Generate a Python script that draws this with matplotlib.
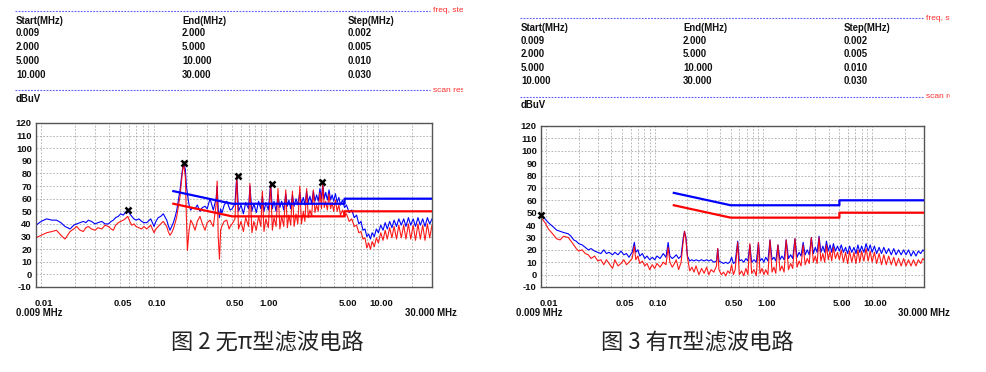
import matplotlib
matplotlib.use('Agg')
import matplotlib.pyplot as plt
import matplotlib.transforms as mtransforms
from matplotlib.ticker import LogLocator, NullFormatter

plt.rcParams['axes.unicode_minus'] = False

# Tabela de varredura (igual nos dois gráficos)
scan_start = ['0.009', '2.000', '5.000', '10.000']
scan_end = ['2.000', '5.000', '10.000', '30.000']
scan_step = ['0.002', '0.005', '0.010', '0.030']

# Linhas de limite (QP azul / AV vermelho)
limit_freq = [0.15, 0.5, 5.0, 5.0, 30.0]
limit_qp = [66, 56, 56, 60, 60]
limit_av = [56, 46, 46, 50, 50]

xtick_vals = [0.01, 0.05, 0.1, 0.5, 1, 5, 10]
xtick_labels = ['0.01', '0.05', '0.10', '0.50', '1.00', '5.00', '10.00']

# Figura 2 - sem filtro pi
freq_2 = [0.009, 0.010, 0.0112, 0.0125, 0.0137, 0.015, 0.0163, 0.0181, 0.0195, 0.0207,
          0.0222, 0.0237, 0.025, 0.0263, 0.028, 0.0302, 0.032, 0.0346, 0.037, 0.0396,
          0.042, 0.0439, 0.046, 0.0486, 0.051, 0.0538, 0.056, 0.0589, 0.0615, 0.064,
          0.067, 0.0698, 0.074, 0.0784, 0.082, 0.0869, 0.0944, 0.101, 0.105, 0.110,
          0.116, 0.122, 0.131, 0.135, 0.140, 0.145, 0.150, 0.156, 0.161, 0.172,
          0.180, 0.185, 0.192, 0.196, 0.200, 0.207, 0.214, 0.223, 0.234, 0.245,
          0.259, 0.272, 0.287, 0.300, 0.318, 0.330, 0.340, 0.360, 0.368, 0.376,
          0.386, 0.395, 0.404, 0.425, 0.448, 0.470, 0.480,
          0.50, 0.53, 0.55, 0.57, 0.60, 0.63, 0.66, 0.70, 0.72, 0.75,
          0.78, 0.82, 0.86, 0.90, 0.93, 0.96, 1.00, 1.05, 1.10, 1.14,
          1.18, 1.23, 1.28, 1.33, 1.38, 1.44, 1.50, 1.55, 1.60, 1.66,
          1.72, 1.78, 1.85, 1.92, 2.00, 2.07, 2.15, 2.22, 2.30, 2.38,
          2.46, 2.55, 2.64, 2.73, 2.82, 2.92, 3.02, 3.12, 3.20, 3.30,
          3.40, 3.52, 3.64, 3.76, 3.88, 4.00, 4.15, 4.30, 4.45, 4.60,
          4.80, 5.00,
          5.2, 5.5, 5.8, 6.1, 6.4, 6.7, 7.0, 7.3, 7.6, 7.9,
          8.2, 8.5, 8.8, 9.2, 9.6, 10.0, 10.5, 11.0, 11.5, 12.0,
          12.6, 13.2, 13.8, 14.5, 15.2, 16.0, 16.8, 17.6, 18.5, 19.4,
          20.4, 21.4, 22.5, 23.6, 24.8, 26.0, 27.3, 28.6, 30.0]
blue_2 = [39, 42, 44, 43, 43, 41, 38, 36, 39, 40,
          41, 42, 41, 43, 42, 40, 41, 42, 40, 40,
          42, 43, 45, 46, 48, 47, 49, 51, 48, 46,
          44, 43, 44, 42, 41, 41, 44, 38, 42, 45,
          46, 48, 43, 39, 35, 38, 41, 46, 51, 67,
          82, 89, 83, 70, 64, 55, 51, 53, 52, 55,
          50, 53, 54, 52, 60, 55, 51, 60, 70, 52,
          45, 52, 48, 55, 58, 53, 51,
          52, 56, 78, 50, 55, 48, 57, 52, 70, 50,
          56, 49, 58, 52, 62, 50, 57, 51, 72, 52,
          58, 50, 63, 53, 58, 51, 64, 54, 59, 52,
          63, 54, 60, 55, 65, 56, 61, 55, 66, 57,
          62, 56, 66, 58, 63, 58, 68, 60, 72, 60,
          65, 59, 67, 59, 63, 58, 64, 57, 61, 55,
          59, 53,
          55, 49, 51, 45, 47, 40, 42, 35, 36, 30,
          32, 28, 33, 30, 36, 33, 39, 35, 41, 36,
          42, 37, 43, 38, 44, 39, 44, 38, 45, 39,
          44, 38, 45, 39, 44, 38, 45, 40, 44]
red_2 = [29, 31, 33, 34, 35, 31, 28, 34, 36, 38,
         35, 34, 37, 38, 36, 35, 37, 36, 39, 38,
         36, 35, 39, 41, 42, 43, 44, 46, 42, 39,
         40, 38, 37, 36, 38, 36, 39, 33, 36, 38,
         40, 42, 38, 34, 31, 33, 36, 41, 46, 62,
         80, 88, 77, 45, 19, 35, 43, 40, 35, 42,
         46, 40, 35, 41, 43, 40, 38, 55, 74, 30,
         12, 35, 38, 42, 43, 36, 38,
         40, 44, 78, 36, 42, 34, 45, 38, 72, 33,
         42, 35, 46, 38, 66, 34, 44, 37, 72, 35,
         45, 38, 68, 36, 46, 38, 67, 37, 47, 39,
         66, 38, 48, 40, 70, 40, 50, 42, 68, 45,
         51, 46, 67, 49, 55, 50, 65, 52, 72, 53,
         58, 51, 64, 52, 57, 50, 59, 50, 55, 47,
         51, 46,
         48, 42, 44, 38, 39, 33, 34, 28, 29, 21,
         25, 20, 26, 22, 29, 25, 33, 27, 35, 28,
         37, 29, 38, 28, 39, 29, 39, 28, 40, 28,
         39, 27, 40, 28, 39, 27, 40, 29, 39]
peak_f_2 = [0.0596, 0.1855, 0.561, 1.13, 3.17]
peak_v_2 = [51, 88, 78, 72, 73]

# Figura 3 - com filtro pi
freq_3 = [0.009, 0.0098, 0.0105, 0.0115, 0.0125, 0.0135, 0.0145, 0.016, 0.017, 0.018,
          0.019, 0.020, 0.0215, 0.023, 0.0245, 0.026, 0.028, 0.030, 0.032, 0.034,
          0.036, 0.038, 0.041, 0.043, 0.046, 0.049, 0.052, 0.055, 0.058, 0.062,
          0.065, 0.067, 0.070, 0.073, 0.077, 0.081, 0.085, 0.090, 0.095, 0.100,
          0.105, 0.112, 0.120, 0.127, 0.133, 0.138, 0.145, 0.150,
          0.158, 0.166, 0.175, 0.182, 0.188, 0.194, 0.200, 0.21, 0.22, 0.23,
          0.24, 0.255, 0.27, 0.285, 0.30, 0.315, 0.33, 0.35, 0.37, 0.38,
          0.39, 0.41, 0.43, 0.45, 0.47, 0.49,
          0.51, 0.53, 0.55, 0.58, 0.60, 0.63, 0.66, 0.69, 0.72, 0.75,
          0.78, 0.82, 0.86, 0.90, 0.93, 0.97, 1.01, 1.05, 1.10, 1.15,
          1.20, 1.25, 1.30, 1.36, 1.42, 1.48, 1.55, 1.62, 1.70, 1.78,
          1.86, 1.95, 2.04, 2.13, 2.22, 2.32, 2.42, 2.53, 2.64, 2.76,
          2.88, 3.00, 3.12, 3.25, 3.38, 3.52, 3.66, 3.80, 3.95, 4.10,
          4.25, 4.40, 4.60, 4.80, 5.00,
          5.2, 5.45, 5.7, 5.95, 6.2, 6.5, 6.8, 7.1, 7.4, 7.7,
          8.0, 8.4, 8.8, 9.2, 9.6, 10.0, 10.5, 11.0, 11.6, 12.2,
          12.8, 13.5, 14.2, 15.0, 15.8, 16.6, 17.5, 18.5, 19.5, 20.5,
          21.6, 22.8, 24.0, 25.3, 26.6, 28.0, 29.3, 30.0]
blue_3 = [48, 45, 42, 39, 36, 35, 34, 33, 31, 28,
          27, 25, 24, 22, 20, 21, 19, 18, 17, 20,
          17, 18, 16, 18, 16, 19, 16, 17, 14, 18,
          26, 18, 20, 15, 17, 13, 15, 12, 14, 12,
          15, 13, 17, 14, 26, 15, 13, 14,
          16, 13, 15, 28, 35, 30, 15, 11, 12, 11,
          12, 11, 12, 11, 12, 11, 12, 10, 11, 21,
          11, 10, 9, 10, 9, 10,
          14, 9, 10, 27, 11, 12, 10, 13, 11, 24,
          10, 12, 10, 26, 11, 13, 10, 14, 11, 28,
          12, 14, 11, 24, 12, 15, 12, 28, 13, 16,
          13, 29, 14, 18, 15, 26, 16, 20, 16, 30,
          17, 22, 18, 31, 18, 23, 18, 27, 19, 24,
          18, 25, 19, 23, 19,
          24, 18, 22, 17, 23, 18, 22, 17, 24, 18,
          23, 18, 25, 19, 24, 18, 23, 17, 22, 17,
          22, 17, 21, 16, 21, 16, 20, 16, 20, 16,
          20, 15, 19, 15, 19, 17, 20, 19]
red_3 = [46, 42, 37, 33, 29, 28, 31, 30, 27, 24,
         21, 19, 20, 17, 16, 13, 15, 11, 12, 8,
         12, 9, 5, 12, 7, 9, 12, 8, 10, 13,
         23, 12, 15, 9, 11, 7, 9, 4, 8, 5,
         9, 6, 10, 8, 22, 10, 6, 8,
         12, 4, 10, 25, 35, 28, 14, 3, 6, 2,
         7, 0, 5, 1, 6, 0, 4, 2, 7, 21,
         4, 0, 2, -1, 3, 1,
         8, 0, 4, 26, 0, 3, -1, 5, 0, 25,
         1, 4, -1, 26, 1, 5, 0, 4, 0, 28,
         2, 6, 1, 24, 3, 7, 2, 28, 4, 9,
         5, 29, 6, 11, 7, 24, 8, 13, 9, 30,
         10, 15, 9, 30, 11, 17, 10, 24, 12, 19,
         11, 22, 13, 18, 12,
         20, 10, 18, 9, 19, 10, 18, 9, 20, 10,
         19, 11, 21, 11, 19, 10, 18, 9, 17, 8,
         16, 8, 15, 8, 14, 7, 13, 7, 13, 7,
         12, 7, 12, 7, 12, 9, 13, 12]
peak_f_3 = [0.009]
peak_v_3 = [48]

W, H = 986, 372


def px_rect(l, t, r, b):
    # retângulo em pixels -> coordenadas da figura
    return [l / W, 1 - b / H, (r - l) / W, (b - t) / H]


fig = plt.figure(figsize=(W / 100, H / 100), dpi=100)
tab_font = dict(family='Liberation Sans', fontsize=6.9, fontweight='bold', color='#111111')


def header(box, x0, x1, y_line1, y_head, y_rows, y_line2, y_unit, cols):
    ax = fig.add_axes(px_rect(*box))
    ax.set_xlim(box[0], box[2])
    ax.set_ylim(box[3], box[1])
    ax.axis('off')
    for y, tag in [(y_line1, 'freq, step'), (y_line2, 'scan result')]:
        ax.hlines(y, x0, x1, color='#5c5cff', lw=0.8, linestyles=(0, (1.6, 1.2)))
        ax.text(x1 + 3, y, tag, color='#ff3030', fontsize=6, family='Liberation Sans',
                va='center', ha='left', clip_on=True)
    titles = ['Start(MHz)', 'End(MHz)', 'Step(MHz)']
    for cx, title, vals in zip(cols, titles, [scan_start, scan_end, scan_step]):
        ax.text(cx, y_head, title, va='center', ha='left', **tab_font)
        for y, v in zip(y_rows, vals):
            ax.text(cx, y, v, va='center', ha='left', **tab_font)
    ax.text(x0 + 1, y_unit, 'dBuV', va='center', ha='left', **tab_font)


header((0, 0, 463, 110), 15, 430, 10.7, 20.7, [33.3, 47.3, 61.3, 75.0], 90, 99.5, [16, 182, 348])
header((500, 0, 950, 112), 520, 923, 18.3, 27.7, [41, 54.3, 67.7, 81], 96.7, 105, [521, 683, 844])


def emi_plot(box, freq, blue, red, pk_f, pk_v):
    ax = fig.add_axes(px_rect(*box))
    ax.set_xscale('log')
    ax.plot(freq, blue, color='#0000ff', lw=0.8, zorder=2)
    ax.plot(freq, red, color='#ff0000', lw=0.8, alpha=0.9, zorder=2.1)
    ax.plot(limit_freq, limit_qp, color='#0000ff', lw=1.6, zorder=3)
    ax.plot(limit_freq, limit_av, color='#ff0000', lw=1.6, zorder=3)
    ax.plot(pk_f, pk_v, 'x', color='black', ms=5, mew=1.8, zorder=5, clip_on=False)
    ax.set_xlim(0.009, 30)
    ax.set_ylim(-10, 120)
    ax.set_yticks(range(-10, 121, 10))
    ax.set_xticks(xtick_vals, xtick_labels)
    ax.xaxis.set_minor_locator(LogLocator(base=10, subs=range(2, 10)))
    ax.xaxis.set_minor_formatter(NullFormatter())
    ax.grid(which='both', color='#a8a8a8', ls=(0, (2, 2)), lw=0.6)
    ax.tick_params(which='both', length=0)
    ax.tick_params(axis='y', pad=3)
    ax.tick_params(axis='x', pad=9)
    for lab in ax.get_xticklabels() + ax.get_yticklabels():
        lab.set_fontfamily('Liberation Sans')
        lab.set_fontweight('bold')
        lab.set_fontsize(6.8)
        lab.set_color('#111111')
    shift = mtransforms.ScaledTranslation(3 / 100, 0, fig.dpi_scale_trans)
    for lab in ax.get_xticklabels():
        lab.set_transform(lab.get_transform() + shift)
    for s in ax.spines.values():
        s.set_color('#555555')
        s.set_linewidth(1.0)
    return ax


emi_plot((36, 123, 432, 287), freq_2, blue_2, red_2, peak_f_2, peak_v_2)
emi_plot((541, 126, 924, 287), freq_3, blue_3, red_3, peak_f_3, peak_v_3)

for x, ha, s in [(16, 'left', '0.009 MHz'), (457, 'right', '30.000 MHz'),
                 (516, 'left', '0.009 MHz'), (950, 'right', '30.000 MHz')]:
    fig.text(x / W, 1 - 313 / H, s, ha=ha, va='center', **tab_font)

cap_font = dict(family=['Noto Sans CJK SC', 'DejaVu Sans'], fontsize=16, color='#222222')
fig.text(267 / W, 1 - 343 / H, '图 2 无π型滤波电路', ha='center', va='center', **cap_font)
fig.text(697 / W, 1 - 343 / H, '图 3 有π型滤波电路', ha='center', va='center', **cap_font)

fig.savefig('out.png', dpi=100)
